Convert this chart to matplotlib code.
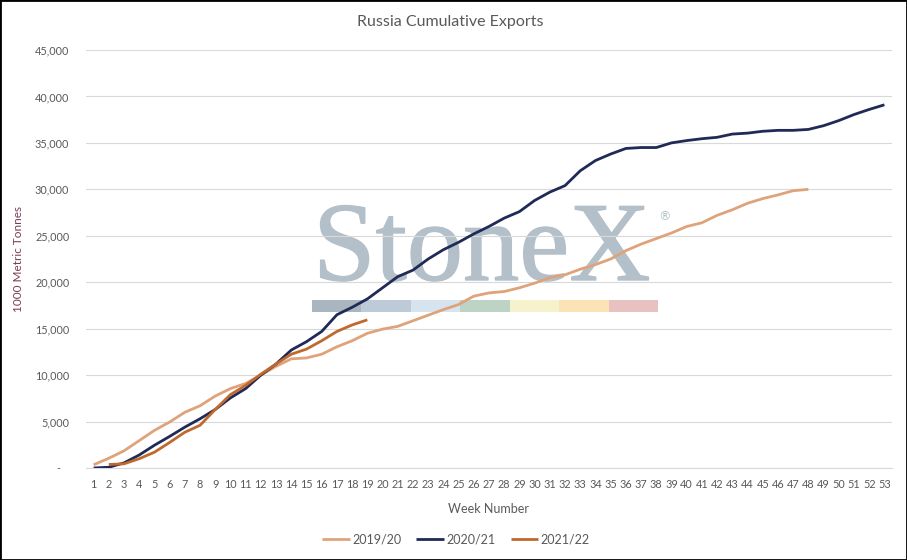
"""Russia cumulative exports by marketing year, StoneX-style Excel chart."""

import matplotlib

matplotlib.use("Agg")
import matplotlib.patheffects as pe
import matplotlib.pyplot as plt
from matplotlib.patches import Rectangle
from matplotlib.ticker import FuncFormatter, MultipleLocator
import numpy as np

WEEKS = list(range(1, 54))

EXPORTS_2019_20 = [
    350, 1050, 1850, 2950, 4050, 4950, 6000, 6700, 7750, 8550,
    9100, 10000, 10950, 11750, 11850, 12250, 13050, 13700, 14500, 14950,
    15250, 15850, 16450, 17050, 17600, 18500, 18850, 19000, 19400, 19900,
    20500, 20800, 21400, 21900, 22500, 23400, 24100, 24700, 25300, 26000,
    26400, 27200, 27800, 28500, 29000, 29400, 29850, 30000,
]
EXPORTS_2020_21 = [
    0, 80, 550, 1400, 2450, 3400, 4400, 5300, 6300, 7550,
    8550, 10000, 11200, 12700, 13600, 14700, 16500, 17300, 18200, 19400,
    20600, 21300, 22500, 23500, 24300, 25200, 26000, 26900, 27600, 28800,
    29700, 30400, 32000, 33100, 33800, 34400, 34500, 34500, 35000, 35250,
    35450, 35600, 35950, 36050, 36250, 36350, 36350, 36450, 36850, 37400,
    38050, 38600, 39100,
]
# 2021/22 starts at week 2
EXPORTS_2021_22 = [
    np.nan, 380, 450, 1000, 1700, 2750, 3850, 4600, 6300, 7900,
    8900, 10100, 11200, 12250, 12800, 13700, 14700, 15400, 15950,
]

SERIES = [
    ("2019/20", EXPORTS_2019_20, "#dfa37b"),
    ("2020/21", EXPORTS_2020_21, "#1f2a56"),
    ("2021/22", EXPORTS_2021_22, "#c0692c"),
]

BAR_COLORS = ["#aab6bf", "#bdcad8", "#d6e4ef", "#bdd3c6", "#f5f2cc", "#fce3b6", "#e8c1c1"]


def main() -> None:
    grey = "#595959"
    mark = "#b4c0c9"
    plt.rcParams.update({"font.family": ["Lato", "DejaVu Sans"]})

    fig = plt.figure(figsize=(9.07, 5.6), dpi=100)
    ax = fig.add_axes([86 / 907, 1 - 468 / 560, 806 / 907, 418 / 560])

    # watermark, sits under the gridlines
    def fx(px):
        return (px - 86) / 806

    def fy(py):
        return (468 - py) / 418

    ax.text(fx(313), fy(280), "StoneX", transform=ax.transAxes, family="Liberation Serif",
            fontsize=81, color=mark, ha="left", va="baseline", zorder=0.1,
            path_effects=[pe.withStroke(linewidth=1.0, foreground=mark)])
    ax.text(fx(664), fy(217), "®", transform=ax.transAxes, family="DejaVu Sans",
            fontsize=9, color=mark, ha="center", va="center", zorder=0.1)
    seg_w = (658 - 312) / len(BAR_COLORS)
    for i, c in enumerate(BAR_COLORS):
        ax.add_patch(Rectangle((fx(312 + i * seg_w), fy(312)), seg_w / 806, 12 / 418,
                               transform=ax.transAxes, facecolor=c, edgecolor="none", zorder=0.1))

    for label, values, color in SERIES:
        ax.plot(WEEKS[: len(values)], values, color=color, linewidth=2.0, label=label,
                solid_capstyle="butt", zorder=3)

    ax.set_xlim(0.5, 53.5)
    ax.set_ylim(0, 45000)
    ax.set_xticks(WEEKS)
    ax.yaxis.set_major_locator(MultipleLocator(5000))
    ax.yaxis.set_major_formatter(FuncFormatter(lambda v, _: "-   " if v == 0 else f"{v:,.0f}"))
    ax.set_axisbelow(True)
    ax.grid(axis="y", color="#d9d9d9", linewidth=0.8)
    for side in ("top", "right", "left"):
        ax.spines[side].set_visible(False)
    ax.spines["bottom"].set_color("#d9d9d9")
    ax.spines["bottom"].set_linewidth(0.8)
    ax.tick_params(axis="both", length=0, labelsize=7.8, colors=grey)
    ax.tick_params(axis="x", pad=8)
    ax.tick_params(axis="y", pad=12)

    ax.set_xlabel("Week Number", fontsize=9, color=grey, labelpad=9)
    ax.set_ylabel("1000 Metric Tonnes", fontsize=8.5, color="#7a3d58", labelpad=8)
    fig.text(450 / 907, 1 - 22 / 560, "Russia Cumulative Exports", fontsize=11.5,
             color=grey, ha="center", va="center")

    leg = fig.legend(loc="center", bbox_to_anchor=(456 / 907, 1 - 539 / 560), ncol=3,
                     frameon=False, fontsize=9, handlelength=2.2, handletextpad=0.2,
                     columnspacing=1.2)
    for t in leg.get_texts():
        t.set_color(grey)

    fig.patches.append(Rectangle((0, 0), 1, 1, transform=fig.transFigure, fill=False,
                                 edgecolor="black", linewidth=2))
    fig.savefig("out.png", dpi=100)
    plt.close(fig)


if __name__ == "__main__":
    main()
